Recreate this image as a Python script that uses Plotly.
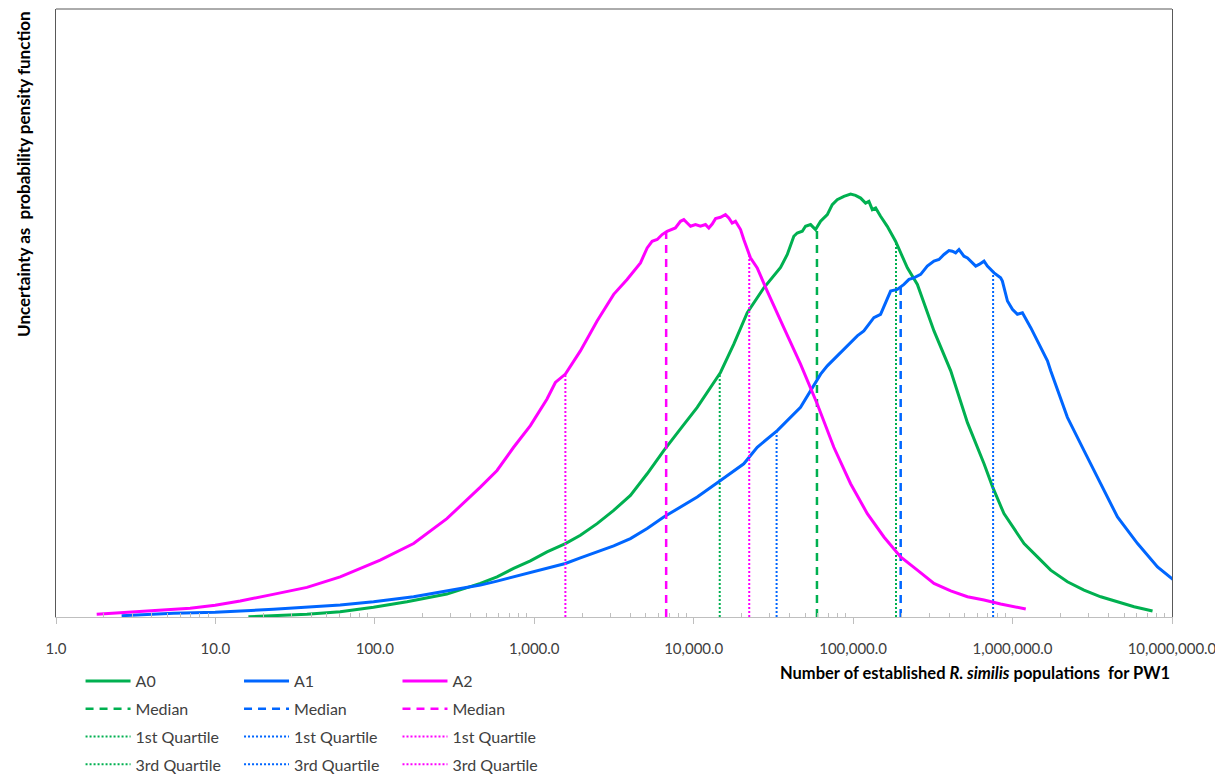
import numpy as np
import plotly.graph_objects as go

# ---------------- data ----------------
# x: number of established populations, y: relative probability density (arbitrary units)
A0_x = [16.1, 37.5, 60.6, 98.1, 159, 283, 459, 584, 742, 945, 1202, 1567, 1946, 2477, 3148,
        4009, 5105, 6486, 8260, 10520, 14720, 17840, 21670, 27540, 35060, 38630, 42460,
        44590, 47970, 50260, 54080, 58080, 62520, 68870, 73960, 79430, 87500, 96380, 103500,
        111400, 119700, 125600, 131900, 138400, 148600, 163700, 184500, 218800, 252900,
        321400, 409300, 521200, 662200, 750300, 883100, 1180000, 1432000, 1734000, 2208000,
        2806000, 3573000, 4550000, 5785000, 7550000]
A0_y = [0.003, 0.027, 0.053, 0.097, 0.153, 0.23, 0.337, 0.403, 0.487, 0.563, 0.653, 0.737,
        0.82, 0.937, 1.07, 1.22, 1.437, 1.67, 1.887, 2.103, 2.453, 2.737, 3.053, 3.303, 3.507,
        3.637, 3.82, 3.853, 3.87, 3.92, 3.937, 3.887, 3.97, 4.037, 4.137, 4.187, 4.22, 4.243,
        4.23, 4.203, 4.153, 4.17, 4.087, 4.103, 4.02, 3.92, 3.77, 3.503, 3.337, 2.87, 2.47,
        1.95, 1.537, 1.303, 1.037, 0.737, 0.603, 0.47, 0.353, 0.27, 0.203, 0.153, 0.103, 0.06]

A1_x = [2.58, 5.45, 9.96, 23.1, 60.6, 98.1, 175, 283, 459, 584, 742, 945, 1202, 1567, 1946,
        2477, 3148, 4009, 5105, 6486, 8260, 10520, 14720, 20610, 25020, 33420, 46770, 54080,
        62520, 68870, 79430, 91830, 106200, 116700, 134900, 148600, 159900, 171800, 189200,
        208300, 224000, 240500, 265100, 291800, 321400, 345400, 371500, 399000, 419100,
        439500, 461300, 495500, 521200, 559800, 587500, 616600, 662200, 695000, 765600,
        841400, 863000, 928800, 997700, 1072000, 1153000, 1300000, 1432000, 1655000,
        1734000, 2208000, 2806000, 3573000, 4550000, 6081000, 8110000, 10120000]
A1_y = [0.013, 0.037, 0.047, 0.077, 0.12, 0.153, 0.203, 0.263, 0.32, 0.36, 0.403, 0.443,
        0.487, 0.537, 0.593, 0.653, 0.713, 0.787, 0.887, 1.003, 1.103, 1.203, 1.37, 1.537,
        1.703, 1.87, 2.103, 2.27, 2.437, 2.52, 2.62, 2.72, 2.82, 2.87, 3.003, 3.037, 3.153,
        3.27, 3.287, 3.337, 3.387, 3.403, 3.437, 3.52, 3.57, 3.587, 3.637, 3.677, 3.67, 3.653,
        3.687, 3.62, 3.603, 3.553, 3.52, 3.537, 3.57, 3.52, 3.453, 3.403, 3.37, 3.17, 3.087,
        3.037, 3.053, 2.903, 2.77, 2.57, 2.47, 2.003, 1.67, 1.337, 1.003, 0.737, 0.503, 0.377]

A2_x = [1.80, 3.37, 6.94, 9.96, 14.3, 23.0, 37.5, 60.6, 97.7, 108, 175, 283, 459, 584, 742,
        945, 1202, 1356, 1567, 1946, 2477, 3148, 3820, 4634, 5105, 5483, 5902, 6339, 6808,
        7328, 7674, 8260, 8670, 9100, 9550, 10260, 11020, 11860, 12440, 13060, 13710, 14720,
        15820, 16600, 17420, 18280, 19670, 20610, 22700, 25020, 27540, 28910, 36730, 46770,
        59560, 75680, 96380, 122700, 156000, 198600, 252900, 321400, 409300, 521200, 662200,
        841400, 1210000]
A2_y = [0.027, 0.053, 0.087, 0.117, 0.16, 0.227, 0.297, 0.403, 0.537, 0.57, 0.737, 0.987,
        1.303, 1.47, 1.703, 1.92, 2.187, 2.353, 2.437, 2.67, 2.97, 3.237, 3.387, 3.553, 3.703,
        3.77, 3.787, 3.837, 3.87, 3.887, 3.903, 3.97, 3.987, 3.953, 3.92, 3.937, 3.92, 3.937,
        3.903, 3.943, 3.997, 4.01, 4.037, 4.003, 3.953, 3.97, 3.887, 3.787, 3.603, 3.503,
        3.337, 3.27, 2.903, 2.537, 2.137, 1.703, 1.337, 1.037, 0.803, 0.603, 0.47, 0.337,
        0.263, 0.203, 0.17, 0.13, 0.08]

# quartiles: [1st quartile, median, 3rd quartile]
A0_quart = [14560, 59300, 185700]
A1_quart = [33100, 198700, 755000]
A2_quart = [1567, 6717, 22300]

series_names = ["A0", "A1", "A2"]
series_colors = ["#00B050", "#0066FF", "#FF00FF"]

x_tickvals = [1, 10, 100, 1000, 10000, 100000, 1000000, 10000000]
x_ticktext = ["1.0", "10.0", "100.0", "1,000.0", "10,000.0", "100,000.0",
              "1,000,000.0", "10,000,000.0"]

x_title = "<b>Number of established <i>R. similis</i> populations  for PW1</b>"
y_title = "<b>Uncertainty as  probability pensity function</b>"

FONT = "Lato, 'Open Sans', sans-serif"
TXT = "#404040"

# ---------------- figure ----------------
fig = go.Figure()
series = [(A0_x, A0_y, A0_quart), (A1_x, A1_y, A1_quart), (A2_x, A2_y, A2_quart)]
legend_ids = ["legend", "legend2", "legend3"]

for i, (xs, ys, q) in enumerate(series):
    name = series_names[i]
    col = series_colors[i]
    lg = legend_ids[i]
    lx = np.log10(np.array(xs, dtype=float))
    ly = np.array(ys, dtype=float)
    fig.add_trace(go.Scatter(x=xs, y=ys, mode="lines", name=name, legend=lg,
                             legendgroup=name + "c",
                             line=dict(color=col, width=3), hoverinfo="skip"))
    specs = [("Median", q[1], "8px,6px", 2.5),
             ("1st Quartile", q[0], "2px,2px", 2),
             ("3rd Quartile", q[2], "2px,2px", 2)]
    for lab, qv, dash, w in specs:
        top = float(np.interp(np.log10(qv), lx, ly))
        fig.add_trace(go.Scatter(x=[qv, qv], y=[0, top], mode="lines", name=lab,
                                 legend=lg, legendgroup=name + lab,
                                 line=dict(color=col, width=w, dash=dash),
                                 hoverinfo="skip"))

minor_vals = [m * 10 ** k for k in range(0, 7) for m in range(2, 10)]

fig.update_xaxes(type="log", range=[0, 7], showgrid=False, zeroline=False,
                 showline=True, linecolor="#BFBFBF", linewidth=1,
                 tickvals=x_tickvals, ticktext=x_ticktext,
                 ticks="outside", ticklen=6, tickcolor="#BFBFBF",
                 ticklabelstandoff=12,
                 tickfont=dict(family=FONT, size=15, color=TXT),
                 minor=dict(tickvals=minor_vals, ticks="inside", ticklen=4,
                            tickcolor="#BFBFBF", showgrid=False))
fig.update_yaxes(range=[0, 6.1], showgrid=False, zeroline=False, showticklabels=False,
                 ticks="", showline=True, linecolor="#595959", linewidth=1, mirror=True)

leg_common = dict(orientation="v", yanchor="top", y=-0.0773, xanchor="left",
                  bgcolor="rgba(0,0,0,0)", traceorder="grouped", tracegroupgap=4,
                  itemwidth=45, itemclick=False, itemdoubleclick=False,
                  font=dict(family=FONT, size=16, color=TXT))

fig.update_layout(
    width=1215, height=790,
    margin=dict(l=48, r=51, t=1, b=181),
    paper_bgcolor="white", plot_bgcolor="white",
    showlegend=True,
    legend=dict(x=0.022, **leg_common),
    legend2=dict(x=0.164, **leg_common),
    legend3=dict(x=0.306, **leg_common),
    shapes=[dict(type="line", xref="paper", yref="paper", x0=0, x1=1, y0=1, y1=1,
                 line=dict(color="#595959", width=1))],
    annotations=[
        dict(text=x_title, xref="paper", yref="paper", x=1.0, y=-0.0921,
             xanchor="right", yanchor="middle", showarrow=False,
             font=dict(family=FONT, size=16.5, color="#000000")),
        dict(text=y_title, xref="paper", yref="paper", x=-0.0296, y=1.0,
             xanchor="center", yanchor="top", textangle=-90, showarrow=False,
             font=dict(family=FONT, size=17, color="#000000")),
    ],
)

fig.write_html("out.html")
